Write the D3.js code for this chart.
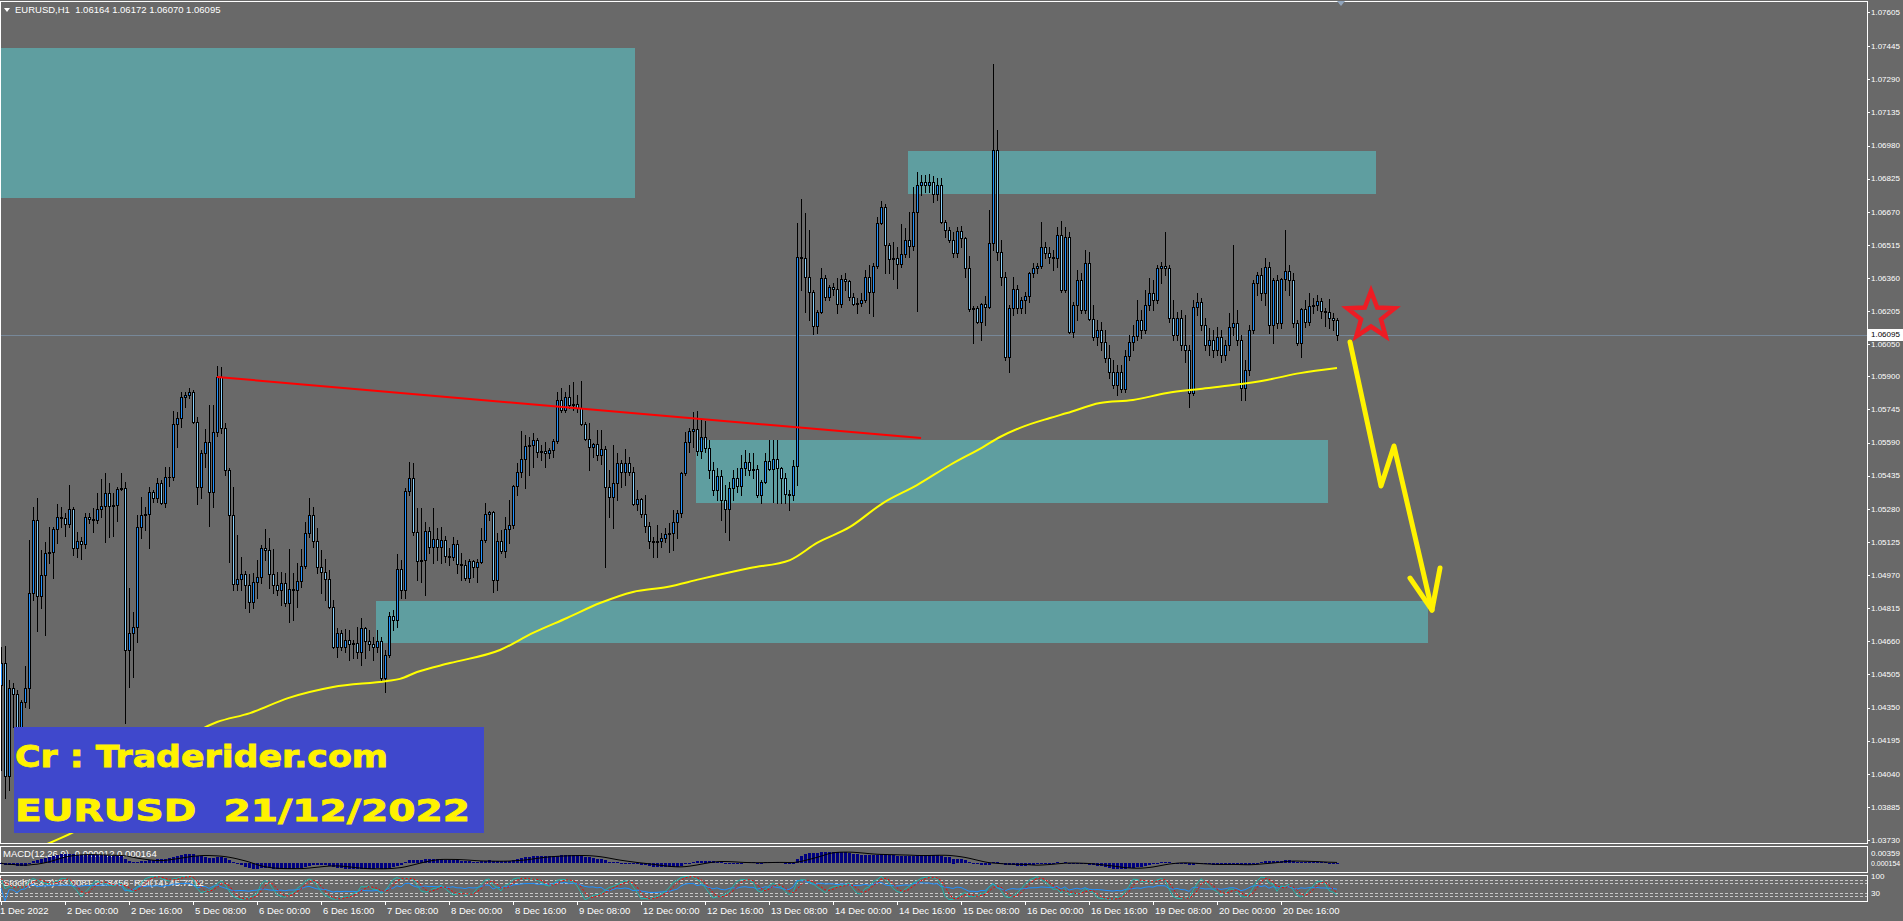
<!DOCTYPE html>
<html><head><meta charset="utf-8"><title>EURUSD H1</title>
<script src="https://cdn.jsdelivr.net/npm/d3@7/dist/d3.min.js"></script>
<style>
html,body{margin:0;padding:0;background:#696969;overflow:hidden;}
svg{display:block;}
text{font-family:"Liberation Sans",Arial,sans-serif;}
</style></head><body>
<svg id="chart" width="1903" height="921"></svg>
<script>
// ---------------- DATA ----------------
const symbol = "EURUSD,H1";
const opens = [
1.04455,1.04558,1.04029,1.04441,1.04413,1.04104,1.04376,1.04441,1.04886,1.05227,
1.04872,1.04970,1.05073,1.05078,1.05185,1.05241,1.05237,1.05209,1.05279,1.05096,
1.05129,1.05115,1.05241,1.05232,1.05227,1.05279,1.05293,1.05354,1.05293,1.05298,
1.05373,1.05377,1.04619,1.04699,1.04727,1.05195,1.05251,1.05256,1.05358,1.05330,
1.05401,1.05307,1.05429,1.05429,1.05677,1.05705,1.05803,1.05812,1.05826,1.05686,
1.05382,1.05541,1.05592,1.05358,1.05639,1.05897,1.05658,1.05461,1.05251,1.04928,
1.04951,1.04975,1.04923,1.04844,1.04937,1.04961,1.05096,1.05087,1.04975,1.04923,
1.04900,1.04933,1.04839,1.04904,1.04900,1.04942,1.05012,1.05167,1.05251,1.05129,
1.05007,1.04984,1.04951,1.04820,1.04633,1.04699,1.04633,1.04666,1.04647,1.04652,
1.04610,1.04722,1.04661,1.04647,1.04633,1.04661,1.04488,1.04596,1.04778,1.04759,
1.04998,1.04900,1.05363,1.05424,1.05171,1.05036,1.05040,1.05176,1.05101,1.05139,
1.05101,1.05134,1.05059,1.05054,1.05115,1.05022,1.05017,1.04956,1.05036,1.05007,
1.05031,1.05134,1.05256,1.05265,1.04947,1.05129,1.05082,1.05185,1.05204,1.05387,
1.05452,1.05513,1.05574,1.05578,1.05602,1.05546,1.05550,1.05541,1.05555,1.05597,
1.05789,1.05742,1.05803,1.05766,1.05770,1.05752,1.05677,1.05607,1.05569,1.05583,
1.05532,1.05560,1.05382,1.05335,1.05401,1.05494,1.05452,1.05494,1.05452,1.05302,
1.05326,1.05256,1.05199,1.05129,1.05124,1.05129,1.05143,1.05162,1.05167,1.05218,
1.05260,1.05447,1.05592,1.05644,1.05653,1.05550,1.05616,1.05564,1.05461,1.05368,
1.05433,1.05321,1.05279,1.05377,1.05424,1.05387,1.05471,1.05499,1.05461,1.05466,
1.05344,1.05405,1.05504,1.05466,1.05513,1.05471,1.05424,1.05349,1.05344,1.05480,
1.06458,1.06454,1.06365,1.06294,1.06135,1.06201,1.06360,1.06271,1.06318,1.06309,
1.06238,1.06355,1.06346,1.06271,1.06238,1.06243,1.06257,1.06365,1.06294,1.06416,
1.06617,1.06692,1.06514,1.06449,1.06454,1.06426,1.06472,1.06538,1.06510,1.06669,
1.06795,1.06809,1.06795,1.06809,1.06753,1.06795,1.06622,1.06585,1.06538,1.06477,
1.06580,1.06547,1.06407,1.06215,1.06220,1.06154,1.06238,1.06224,1.06524,1.06959,
1.06482,1.06365,1.05990,1.06220,1.06309,1.06220,1.06257,1.06276,1.06383,1.06407,
1.06416,1.06505,1.06477,1.06458,1.06454,1.06561,1.06304,1.06552,1.06107,1.06234,
1.06351,1.06210,1.06430,1.06168,1.06084,1.06117,1.06060,1.05986,1.05920,1.05859,
1.05920,1.05841,1.05995,1.06060,1.06089,1.06163,1.06117,1.06234,1.06290,1.06257,
1.06407,1.06416,1.06407,1.06173,1.06093,1.06173,1.06046,1.06023,1.05822,1.06224,
1.06248,1.06140,1.06046,1.06070,1.06023,1.06084,1.05999,1.06046,1.06131,1.06149,
1.06070,1.05845,1.05929,1.06117,1.06337,1.06374,1.06290,1.06411,1.06140,1.06351,
1.06149,1.06355,1.06393,1.06351,1.06149,1.06056,1.06215,1.06154,1.06229,1.06234,
1.06252,1.06206,1.06201,1.06173,1.06164];
const highs = [
1.04633,1.04638,1.04479,1.04465,1.04432,1.04385,1.04544,1.05134,1.05288,1.05330,
1.05087,1.05124,1.05195,1.05195,1.05302,1.05288,1.05260,1.05391,1.05288,1.05171,
1.05148,1.05260,1.05260,1.05284,1.05354,1.05419,1.05447,1.05401,1.05354,1.05382,
1.05447,1.05405,1.04909,1.04797,1.05251,1.05335,1.05288,1.05382,1.05368,1.05424,
1.05415,1.05475,1.05475,1.05738,1.05733,1.05826,1.05826,1.05845,1.05836,1.05709,
1.05555,1.05653,1.05766,1.05766,1.05948,1.05943,1.05681,1.05471,1.05382,1.05157,
1.05054,1.04989,1.04975,1.04979,1.05040,1.05110,1.05185,1.05143,1.05092,1.04984,
1.04984,1.04979,1.05092,1.04979,1.05026,1.05092,1.05218,1.05330,1.05288,1.05190,
1.05087,1.05045,1.04993,1.04853,1.04722,1.04713,1.04717,1.04713,1.04666,1.04727,
1.04769,1.04727,1.04713,1.04680,1.04713,1.04680,1.04619,1.04797,1.04806,1.05068,
1.05040,1.05377,1.05499,1.05494,1.05284,1.05284,1.05218,1.05195,1.05284,1.05190,
1.05195,1.05153,1.05096,1.05148,1.05134,1.05073,1.05040,1.05045,1.05040,1.05045,
1.05190,1.05307,1.05270,1.05270,1.05167,1.05181,1.05241,1.05321,1.05391,1.05494,
1.05644,1.05625,1.05616,1.05635,1.05611,1.05578,1.05592,1.05564,1.05607,1.05826,
1.05845,1.05826,1.05859,1.05873,1.05812,1.05878,1.05686,1.05681,1.05588,1.05649,
1.05649,1.05574,1.05461,1.05578,1.05541,1.05508,1.05560,1.05522,1.05475,1.05368,
1.05330,1.05344,1.05218,1.05148,1.05204,1.05167,1.05190,1.05213,1.05274,1.05274,
1.05452,1.05639,1.05658,1.05733,1.05738,1.05700,1.05691,1.05602,1.05499,1.05471,
1.05461,1.05391,1.05405,1.05461,1.05471,1.05532,1.05555,1.05541,1.05541,1.05485,
1.05415,1.05541,1.05602,1.05602,1.05602,1.05475,1.05447,1.05368,1.05508,1.06617,
1.06730,1.06664,1.06585,1.06304,1.06210,1.06407,1.06374,1.06327,1.06337,1.06360,
1.06374,1.06383,1.06351,1.06290,1.06266,1.06290,1.06397,1.06421,1.06430,1.06645,
1.06720,1.06706,1.06524,1.06528,1.06505,1.06613,1.06594,1.06669,1.06786,1.06856,
1.06842,1.06842,1.06847,1.06837,1.06828,1.06828,1.06631,1.06599,1.06575,1.06599,
1.06603,1.06552,1.06463,1.06229,1.06229,1.06243,1.06276,1.06678,1.07362,1.07053,
1.06538,1.06388,1.06234,1.06365,1.06327,1.06271,1.06294,1.06388,1.06430,1.06430,
1.06622,1.06528,1.06505,1.06491,1.06599,1.06627,1.06599,1.06575,1.06248,1.06397,
1.06383,1.06491,1.06482,1.06234,1.06163,1.06154,1.06117,1.06046,1.05976,1.05953,
1.05953,1.06023,1.06093,1.06140,1.06257,1.06210,1.06304,1.06360,1.06351,1.06421,
1.06435,1.06575,1.06421,1.06257,1.06201,1.06210,1.06187,1.06046,1.06257,1.06290,
1.06266,1.06173,1.06126,1.06117,1.06131,1.06117,1.06070,1.06196,1.06514,1.06210,
1.06093,1.05976,1.06140,1.06351,1.06388,1.06407,1.06454,1.06435,1.06360,1.06374,
1.06360,1.06585,1.06421,1.06383,1.06163,1.06220,1.06257,1.06290,1.06266,1.06280,
1.06266,1.06220,1.06262,1.06196,1.06172];
const lows = [
1.04057,1.03926,1.03964,1.04259,1.04011,1.03964,1.04352,1.04348,1.04853,1.04708,
1.04816,1.04689,1.05026,1.04956,1.05120,1.05195,1.05153,1.05195,1.05064,1.05054,
1.05045,1.05096,1.05213,1.05171,1.05213,1.05241,1.05124,1.05148,1.05153,1.05223,
1.05368,1.04277,1.04446,1.04493,1.04656,1.05143,1.05181,1.05096,1.05312,1.05312,
1.05302,1.05288,1.05387,1.05415,1.05569,1.05663,1.05756,1.05798,1.05681,1.05302,
1.05330,1.05475,1.05199,1.05288,1.05621,1.05635,1.05438,1.05031,1.04900,1.04900,
1.04900,1.04816,1.04797,1.04816,1.04862,1.04933,1.05040,1.04909,1.04886,1.04876,
1.04830,1.04825,1.04750,1.04759,1.04820,1.04914,1.05003,1.05148,1.05101,1.04979,
1.04886,1.04853,1.04816,1.04628,1.04586,1.04619,1.04610,1.04572,1.04582,1.04582,
1.04549,1.04582,1.04619,1.04572,1.04610,1.04479,1.04422,1.04586,1.04713,1.04727,
1.04862,1.04862,1.05344,1.05157,1.04947,1.04937,1.04876,1.05073,1.05026,1.05040,
1.05026,1.05031,1.05017,1.05040,1.04979,1.04947,1.04947,1.04937,1.04961,1.04937,
1.05026,1.05124,1.05227,1.04890,1.04900,1.05073,1.05054,1.05120,1.05190,1.05344,
1.05429,1.05377,1.05438,1.05475,1.05522,1.05508,1.05475,1.05518,1.05522,1.05588,
1.05733,1.05733,1.05752,1.05742,1.05733,1.05672,1.05602,1.05461,1.05522,1.05508,
1.05490,1.05007,1.05241,1.05190,1.05321,1.05382,1.05391,1.05438,1.05298,1.05274,
1.05241,1.05171,1.05096,1.05054,1.05054,1.05101,1.05124,1.05078,1.05087,1.05143,
1.05241,1.05438,1.05546,1.05569,1.05532,1.05518,1.05546,1.05424,1.05344,1.05321,
1.05227,1.05171,1.05134,1.05321,1.05358,1.05344,1.05438,1.05438,1.05424,1.05335,
1.05307,1.05401,1.05461,1.05312,1.05307,1.05307,1.05307,1.05274,1.05321,1.05391,
1.06304,1.06201,1.06163,1.06098,1.06103,1.06196,1.06257,1.06257,1.06280,1.06196,
1.06224,1.06304,1.06257,1.06234,1.06196,1.06229,1.06248,1.06196,1.06182,1.06407,
1.06613,1.06383,1.06383,1.06355,1.06313,1.06411,1.06458,1.06458,1.06491,1.06206,
1.06748,1.06762,1.06762,1.06716,1.06725,1.06617,1.06552,1.06528,1.06458,1.06458,
1.06505,1.06365,1.06206,1.06056,1.06149,1.06070,1.06140,1.06220,1.06491,1.06444,
1.06327,1.05976,1.05920,1.06187,1.06196,1.06196,1.06196,1.06248,1.06365,1.06383,
1.06407,1.06454,1.06430,1.06397,1.06411,1.06294,1.06294,1.06103,1.06084,1.06163,
1.06196,1.06196,1.06163,1.06070,1.06046,1.06023,1.05967,1.05892,1.05845,1.05812,
1.05826,1.05826,1.05976,1.06023,1.06070,1.06079,1.06103,1.06210,1.06210,1.06243,
1.06337,1.06374,1.06154,1.06070,1.06070,1.06023,1.05967,1.05756,1.05812,1.06187,
1.06117,1.06023,1.05999,1.05990,1.05999,1.05967,1.05976,1.06023,1.06093,1.06046,
1.05789,1.05789,1.05906,1.06103,1.06280,1.06257,1.06234,1.06103,1.06056,1.06126,
1.06126,1.06304,1.06280,1.06131,1.06046,1.05990,1.06131,1.06140,1.06196,1.06210,
1.06173,1.06135,1.06126,1.06117,1.06070];
const closes = [
1.04558,1.04029,1.04441,1.04413,1.04104,1.04376,1.04441,1.04886,1.05227,1.04872,
1.04970,1.05073,1.05078,1.05185,1.05241,1.05237,1.05209,1.05279,1.05096,1.05129,
1.05115,1.05241,1.05232,1.05227,1.05279,1.05293,1.05354,1.05293,1.05298,1.05373,
1.05377,1.04619,1.04699,1.04727,1.05195,1.05251,1.05256,1.05358,1.05330,1.05401,
1.05307,1.05429,1.05429,1.05677,1.05705,1.05803,1.05812,1.05826,1.05686,1.05382,
1.05541,1.05592,1.05358,1.05639,1.05897,1.05658,1.05461,1.05251,1.04928,1.04951,
1.04975,1.04923,1.04844,1.04937,1.04961,1.05096,1.05087,1.04975,1.04923,1.04900,
1.04933,1.04839,1.04904,1.04900,1.04942,1.05012,1.05167,1.05251,1.05129,1.05007,
1.04984,1.04951,1.04820,1.04633,1.04699,1.04633,1.04666,1.04647,1.04652,1.04610,
1.04722,1.04661,1.04647,1.04633,1.04661,1.04488,1.04596,1.04778,1.04759,1.04998,
1.04900,1.05363,1.05424,1.05171,1.05036,1.05040,1.05176,1.05101,1.05139,1.05101,
1.05134,1.05059,1.05054,1.05115,1.05022,1.05017,1.04956,1.05036,1.05007,1.05031,
1.05134,1.05256,1.05265,1.04947,1.05129,1.05082,1.05185,1.05204,1.05387,1.05452,
1.05513,1.05574,1.05578,1.05602,1.05546,1.05550,1.05541,1.05555,1.05597,1.05789,
1.05742,1.05803,1.05766,1.05770,1.05752,1.05677,1.05607,1.05569,1.05583,1.05532,
1.05560,1.05382,1.05335,1.05401,1.05494,1.05452,1.05494,1.05452,1.05302,1.05326,
1.05256,1.05199,1.05129,1.05124,1.05129,1.05143,1.05162,1.05167,1.05218,1.05260,
1.05447,1.05592,1.05644,1.05653,1.05550,1.05616,1.05564,1.05461,1.05368,1.05433,
1.05321,1.05279,1.05377,1.05424,1.05387,1.05471,1.05499,1.05461,1.05466,1.05344,
1.05405,1.05504,1.05466,1.05513,1.05471,1.05424,1.05349,1.05344,1.05480,1.06458,
1.06454,1.06365,1.06294,1.06135,1.06201,1.06360,1.06271,1.06318,1.06309,1.06238,
1.06355,1.06346,1.06271,1.06238,1.06243,1.06257,1.06365,1.06294,1.06416,1.06617,
1.06692,1.06514,1.06449,1.06454,1.06426,1.06472,1.06538,1.06510,1.06669,1.06795,
1.06809,1.06795,1.06809,1.06753,1.06795,1.06622,1.06585,1.06538,1.06477,1.06580,
1.06547,1.06407,1.06215,1.06220,1.06154,1.06238,1.06224,1.06524,1.06959,1.06482,
1.06365,1.05990,1.06220,1.06309,1.06220,1.06257,1.06276,1.06383,1.06407,1.06416,
1.06505,1.06477,1.06458,1.06454,1.06561,1.06304,1.06552,1.06107,1.06234,1.06351,
1.06210,1.06430,1.06168,1.06084,1.06117,1.06060,1.05986,1.05920,1.05859,1.05920,
1.05841,1.05995,1.06060,1.06089,1.06163,1.06117,1.06234,1.06290,1.06257,1.06407,
1.06416,1.06407,1.06173,1.06093,1.06173,1.06046,1.06023,1.05822,1.06224,1.06248,
1.06140,1.06046,1.06070,1.06023,1.06084,1.05999,1.06046,1.06131,1.06149,1.06070,
1.05845,1.05929,1.06117,1.06337,1.06374,1.06290,1.06411,1.06140,1.06351,1.06149,
1.06355,1.06393,1.06351,1.06149,1.06056,1.06215,1.06154,1.06229,1.06234,1.06252,
1.06206,1.06201,1.06173,1.06163,1.06095];

// time axis labels (one every 16 hourly bars)
const timeLabels = ["1 Dec 2022","2 Dec 00:00","2 Dec 16:00","5 Dec 08:00","6 Dec 00:00","6 Dec 16:00","7 Dec 08:00","8 Dec 00:00","8 Dec 16:00","9 Dec 08:00","12 Dec 00:00","12 Dec 16:00","13 Dec 08:00","14 Dec 00:00","14 Dec 16:00","15 Dec 08:00","16 Dec 00:00","16 Dec 16:00","19 Dec 08:00","20 Dec 00:00","20 Dec 16:00"];
const timeLabelBars = [0,16,32,48,64,80,96,112,128,144,160,176,192,208,224,240,256,272,288,304,320];
// price axis labels
const priceLabels = ["1.07605","1.07445","1.07290","1.07135","1.06980","1.06825","1.06670","1.06515","1.06360","1.06205","1.06050","1.05900","1.05745","1.05590","1.05435","1.05280","1.05125","1.04970","1.04815","1.04660","1.04505","1.04350","1.04195","1.04040","1.03885","1.03730"];
const lastPrice = 1.06095;
const macdLabels = ["0.00359","0.000154"];
const stochLabels = ["100","30"];
const stochLabelValues = [97, 30];

// yellow moving average (bar index, value)
const maBars = [11,17.75,54,62.25,71.75,83,96.5,99.75,104,112.25,124.75,133,141.5,149.75,158,166.5,174.75,187.25,197.25,204,212.25,220.5,229,237.25,245.5,249.75,254.75,262.25,266.5,274.75,283,291.5,299.75,308,316.5,324.75,334];
const maValues = [1.03707,1.03763,1.04282,1.04324,1.04394,1.04446,1.04474,1.04484,1.04516,1.04558,1.04619,1.04699,1.04769,1.04839,1.04891,1.04914,1.04951,1.05003,1.05040,1.05120,1.05195,1.05307,1.05391,1.05485,1.05569,1.05616,1.05659,1.05705,1.05728,1.05775,1.05789,1.05822,1.05841,1.05859,1.05883,1.05915,1.05939];

// supply / demand zones
const zoneStartBars = [-0.25, 226.75, 173.75, 93.75];
const zoneEndBars   = [158.5, 343.75, 331.75, 356.75];
const zoneTops      = [1.07436, 1.06954, 1.05602, 1.04848];
const zoneBottoms   = [1.06734, 1.06753, 1.05307, 1.04652];

// red trend line
const trendBars = [54, 230];
const trendPrices = [1.05897, 1.05611];

// yellow zig-zag arrow
const arrowBars = [337.25, 345, 348.25, 357.75];
const arrowPrices = [1.06061, 1.05387, 1.05574, 1.04806];
const arrowHeadBars = [352.25, 357.75, 359.75];
const arrowHeadPrices = [1.04956, 1.04806, 1.05003];

// red star
const starBar = 342.5, starPrice = 1.06182;

// caption box
const captionLines = ["Cr : Traderider.com", "EURUSD  21/12/2022"];
const captionBars = [3.25, 120.75];
const captionPrices = [1.04259, 1.03763];

// ---------------- DRAW ----------------
const W = 1903, H = 921;
const svg = d3.select('#chart');
const BG = '#696969';
svg.append('rect').attr('width', W).attr('height', H).attr('fill', BG);

const R = 1867; // right edge of plotting area
const mainP = {top: 1, bottom: 843};
const macdP = {top: 846, bottom: 872};
const stoP = {top: 875, bottom: 901};
const LBL_X = R + 4;       // right-axis label start
const AX_FONT = '8px';     // right-axis font (fits inside the window)

const n = closes.length;
const x = d3.scaleLinear().domain([0, 334]).range([1, 1337]);
const y = d3.scaleLinear().domain([1.0373, 1.07605]).range([840, 12]);

const defs = svg.append('defs');
defs.append('clipPath').attr('id', 'clipMain').append('rect')
  .attr('x', 0).attr('y', mainP.top + 1).attr('width', R).attr('height', mainP.bottom - mainP.top - 1);
defs.append('clipPath').attr('id', 'clipMacd').append('rect')
  .attr('x', 0).attr('y', macdP.top + 1).attr('width', R).attr('height', macdP.bottom - macdP.top - 1);
defs.append('clipPath').attr('id', 'clipSto').append('rect')
  .attr('x', 0).attr('y', stoP.top + 1).attr('width', R).attr('height', stoP.bottom - stoP.top - 1);

const main = svg.append('g').attr('clip-path', 'url(#clipMain)');

// zones
const zones = d3.range(zoneStartBars.length).map(i => ({s: zoneStartBars[i], e: zoneEndBars[i], t: zoneTops[i], b: zoneBottoms[i]}));
main.append('g').attr('shape-rendering', 'crispEdges').selectAll('rect').data(zones).join('rect')
  .attr('x', d => Math.round(x(d.s))).attr('width', d => Math.round(x(d.e)) - Math.round(x(d.s)))
  .attr('y', d => Math.round(y(d.t))).attr('height', d => Math.round(y(d.b)) - Math.round(y(d.t)))
  .attr('fill', '#5f9ea0');

// current price line
main.append('line').attr('x1', 0).attr('x2', R)
  .attr('y1', Math.round(y(lastPrice)) + 0.5).attr('y2', Math.round(y(lastPrice)) + 0.5)
  .attr('stroke', '#778899').attr('stroke-width', 1);

// candles
const idx = d3.range(n);
const cg = main.append('g').attr('shape-rendering', 'crispEdges');
const cx = i => Math.round(x(i));
cg.selectAll('rect.wick').data(idx).join('rect').attr('class', 'wick')
  .attr('x', i => cx(i)).attr('width', 1)
  .attr('y', i => Math.round(y(highs[i])))
  .attr('height', i => Math.max(1, Math.round(y(lows[i])) - Math.round(y(highs[i])) + 1))
  .attr('fill', '#000');
const bTop = i => Math.round(y(Math.max(opens[i], closes[i])));
const bBot = i => Math.round(y(Math.min(opens[i], closes[i])));
cg.selectAll('rect.body').data(idx).join('rect').attr('class', 'body')
  .attr('x', i => cx(i) - 1).attr('width', 3)
  .attr('y', bTop).attr('height', i => bBot(i) - bTop(i) + 1)
  .attr('fill', '#000');
cg.selectAll('rect.fill').data(idx.filter(i => bBot(i) - bTop(i) >= 2)).join('rect').attr('class', 'fill')
  .attr('x', i => cx(i)).attr('width', 1)
  .attr('y', i => bTop(i) + 1).attr('height', i => bBot(i) - bTop(i) - 1)
  .attr('fill', i => closes[i] >= opens[i] ? '#1e90ff' : '#87cefa');

// moving average
const maPts = maBars.map((b, i) => [b, maValues[i]]);
main.append('path').datum(maPts)
  .attr('d', d3.line().x(d => x(d[0])).y(d => y(d[1])).curve(d3.curveMonotoneX))
  .attr('fill', 'none').attr('stroke', '#ffff00').attr('stroke-width', 2);

// red trend line
main.append('line')
  .attr('x1', x(trendBars[0])).attr('y1', y(trendPrices[0]))
  .attr('x2', x(trendBars[1])).attr('y2', y(trendPrices[1]))
  .attr('stroke', '#ff0000').attr('stroke-width', 2);

// frames
const frame = svg.append('g').attr('fill', 'none').attr('stroke', '#ffffff').attr('stroke-width', 1).attr('shape-rendering', 'crispEdges');
[mainP, macdP, stoP].forEach(p => {
  frame.append('rect').attr('x', 0.5).attr('y', p.top + 0.5).attr('width', R - 0.5).attr('height', p.bottom - p.top);
});

// price axis
const ax = svg.append('g');
const pv = priceLabels.map(s => +s);
ax.selectAll('line').data(pv).join('line')
  .attr('x1', R).attr('x2', R + 3).attr('y1', d => Math.round(y(d)) + 0.5).attr('y2', d => Math.round(y(d)) + 0.5)
  .attr('stroke', '#fff').attr('shape-rendering', 'crispEdges');
ax.selectAll('text').data(priceLabels).join('text')
  .attr('x', LBL_X).attr('y', d => y(+d)).attr('dy', '0.35em')
  .attr('fill', '#fff').attr('font-size', AX_FONT).text(d => d);
// current price box
const lp = svg.append('g');
lp.append('rect').attr('x', R + 1).attr('y', Math.round(y(lastPrice)) - 6).attr('width', W - R - 1).attr('height', 12).attr('fill', '#fff');
lp.append('text').attr('x', LBL_X).attr('y', y(lastPrice)).attr('dy', '0.35em')
  .attr('fill', '#000').attr('font-size', AX_FONT).text(lastPrice.toFixed(5));

// time axis
const tx = svg.append('g');
tx.selectAll('line').data(timeLabelBars).join('line')
  .attr('x1', d => cx(d) + 0.5).attr('x2', d => cx(d) + 0.5).attr('y1', stoP.bottom).attr('y2', stoP.bottom + 4)
  .attr('stroke', '#fff').attr('shape-rendering', 'crispEdges');
tx.selectAll('text').data(timeLabels).join('text')
  .attr('x', (d, i) => i === 0 ? 0 : cx(timeLabelBars[i]) + 2).attr('y', 914)
  .attr('fill', '#fff').attr('font-size', '9.5px').text(d => d);

// header
const hd = svg.append('g');
hd.append('path').attr('d', 'M4,8 L10,8 L7,12 Z').attr('fill', '#fff');
hd.append('text').attr('x', 15).attr('y', 13).attr('fill', '#fff').attr('font-size', '9.5px')
  .style('white-space', 'pre')
  .text(symbol + '  ' + [opens[n-1], highs[n-1], lows[n-1], closes[n-1]].map(v => v.toFixed(5)).join(' '));
// chart shift marker
hd.append('path').attr('d', `M${x(n)-4},1 L${x(n)+4},1 L${x(n)},6 Z`).attr('fill', '#8fa3ba');

// ---------- MACD ----------
function ema(arr, p) { const k = 2 / (p + 1); const o = []; arr.forEach((v, i) => o.push(i ? o[i-1] + k * (v - o[i-1]) : v)); return o; }
const e12 = ema(closes, 12), e26 = ema(closes, 26);
const macd = closes.map((c, i) => e12[i] - e26[i]);
const sig = macd.map((v, i) => d3.mean(macd.slice(Math.max(0, i - 8), i + 1)));
const ym = d3.scaleLinear().domain([-0.0019, 0.00359]).range([macdP.bottom, macdP.top]).clamp(true);
const mg = svg.append('g').attr('clip-path', 'url(#clipMacd)');
mg.append('text').attr('x', 3).attr('y', 857).attr('fill', '#fff').attr('font-size', '9.5px').text('MACD(12,26,9) -0.000012 0.000164');
mg.append('g').attr('shape-rendering', 'crispEdges').selectAll('rect').data(idx).join('rect')
  .attr('x', i => cx(i) - 1).attr('width', 3)
  .attr('y', i => Math.round(Math.min(ym(0), ym(macd[i]))))
  .attr('height', i => Math.max(1, Math.round(Math.abs(ym(macd[i]) - ym(0)))))
  .attr('fill', '#000080');
mg.append('path').datum(idx).attr('d', d3.line().x(i => x(i)).y(i => ym(sig[i])))
  .attr('fill', 'none').attr('stroke', '#000').attr('stroke-width', 1);
svg.append('g').selectAll('text').data(macdLabels).join('text')
  .attr('x', LBL_X).attr('y', (d, i) => i === 0 ? 853 : 864).attr('dy', '0.35em')
  .attr('fill', '#fff').attr('font-size', d => d.length > 7 ? '7px' : AX_FONT).text(d => d);

// ---------- Stochastic + RSI ----------
const raw = idx.map(i => { const s = Math.max(0, i - 4); const hh = d3.max(highs.slice(s, i + 1)), ll = d3.min(lows.slice(s, i + 1)); return [closes[i] - ll, hh - ll]; });
const stK = idx.map(i => { const s = Math.max(0, i - 2); const a = d3.sum(raw.slice(s, i + 1), d => d[0]), b = d3.sum(raw.slice(s, i + 1), d => d[1]); return b ? 100 * a / b : 50; });
const stD = idx.map(i => d3.mean(stK.slice(Math.max(0, i - 2), i + 1)));
let ag = 0, al = 0; const rsi = [];
closes.forEach((c, i) => {
  if (i === 0) { rsi.push(50); return; }
  const ch = c - closes[i-1], g = Math.max(ch, 0), l = Math.max(-ch, 0);
  if (i <= 14) { ag += g / 14; al += l / 14; } else { ag = (ag * 13 + g) / 14; al = (al * 13 + l) / 14; }
  rsi.push(al === 0 ? 100 : 100 - 100 / (1 + ag / al));
});
const ys = d3.scaleLinear().domain([0, 100]).range([stoP.bottom, stoP.top]);
const sg = svg.append('g').attr('clip-path', 'url(#clipSto)');
sg.append('text').attr('x', 3).attr('y', 886).attr('fill', '#fff').attr('font-size', '9.5px').style('white-space', 'pre').text('Stoch(5,3,3) 13.0081 21.8456  RSI(14) 45.7212');
[80, 70, 30, 20].forEach(l => sg.append('line').attr('x1', 0).attr('x2', R)
  .attr('y1', Math.round(ys(l)) + 0.5).attr('y2', Math.round(ys(l)) + 0.5)
  .attr('stroke', '#c8c8c8').attr('stroke-dasharray', '3,2').attr('shape-rendering', 'crispEdges'));
const lineS = arr => d3.line().x(i => x(i)).y(i => ys(arr[i]));
sg.append('path').datum(idx).attr('d', lineS(rsi)).attr('fill', 'none').attr('stroke', '#1e90ff').attr('stroke-width', 1);
sg.append('path').datum(idx).attr('d', lineS(stK)).attr('fill', 'none').attr('stroke', '#20b2aa').attr('stroke-width', 1);
sg.append('path').datum(idx).attr('d', lineS(stD)).attr('fill', 'none').attr('stroke', '#ff0000').attr('stroke-width', 1).attr('stroke-dasharray', '2,2');
svg.append('g').selectAll('text').data(stochLabels).join('text')
  .attr('x', LBL_X).attr('y', (d, i) => ys(stochLabelValues[i])).attr('dy', '0.35em')
  .attr('fill', '#fff').attr('font-size', AX_FONT).text(d => d);

// ---------- annotations ----------
const ann = svg.append('g');
// caption box
const bx0 = x(captionBars[0]), bx1 = x(captionBars[1]), by0 = y(captionPrices[0]), by1 = y(captionPrices[1]);
ann.append('rect').attr('x', Math.round(bx0)).attr('y', Math.round(by0)).attr('width', Math.round(bx1 - bx0)).attr('height', Math.round(by1 - by0)).attr('fill', '#3f48cc');
const capW = [373, 455];
ann.selectAll('text.cap').data(captionLines).join('text').attr('class', 'cap')
  .attr('x', Math.round(bx0) + 1).attr('y', (d, i) => Math.round(by0) + (i === 0 ? 40 : 94))
  .attr('fill', '#fff200').attr('font-size', '30px').attr('font-weight', 'bold')
  .style('font-family', '"DejaVu Sans", sans-serif').style('white-space', 'pre')
  .attr('textLength', (d, i) => capW[i]).attr('lengthAdjust', 'spacingAndGlyphs')
  .attr('stroke', '#fff200').attr('stroke-width', 0.8)
  .text(d => d);

// zig-zag arrow
const arr = arrowBars.map((b, i) => [x(b), y(arrowPrices[i])]);
const head = arrowHeadBars.map((b, i) => [x(b), y(arrowHeadPrices[i])]);
ann.append('path').attr('d', d3.line()(arr)).attr('fill', 'none').attr('stroke', '#fff200').attr('stroke-width', 5).attr('stroke-linejoin', 'round').attr('stroke-linecap', 'round');
ann.append('path').attr('d', d3.line()(head)).attr('fill', 'none').attr('stroke', '#fff200').attr('stroke-width', 5).attr('stroke-linejoin', 'round').attr('stroke-linecap', 'round');

// star
const sx = x(starBar), sy = y(starPrice), Ro = 25, Ri = 10.5;
const starPts = d3.range(10).map(k => { const a = -Math.PI / 2 + k * Math.PI / 5; const r = k % 2 ? Ri : Ro; return [sx + r * Math.cos(a), sy + r * Math.sin(a)]; });
ann.append('path').attr('d', d3.line().curve(d3.curveLinearClosed)(starPts))
  .attr('fill', 'none').attr('stroke', '#ed1c24').attr('stroke-width', 4.5).attr('stroke-linejoin', 'miter');
</script>
</body></html>
